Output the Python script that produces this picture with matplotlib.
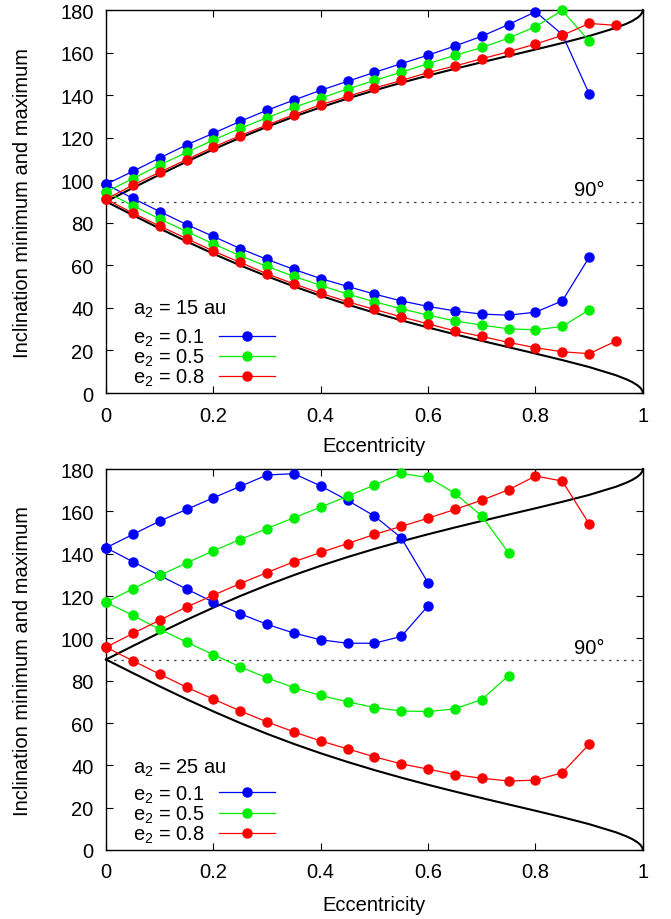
import matplotlib
matplotlib.use("Agg")
import matplotlib.pyplot as plt

plt.rcParams['font.family'] = ['Liberation Sans', 'DejaVu Sans']
plt.rcParams['mathtext.fontset'] = 'custom'
plt.rcParams['mathtext.rm'] = 'Liberation Sans'
plt.rcParams['mathtext.it'] = 'Liberation Sans'

BLUE = '#0000ff'
GREEN = '#00ee00'
RED = '#ff0000'
FS = 14.5

# limiting curve
bound_e = [0, 0.05, 0.1, 0.15, 0.2, 0.25, 0.3, 0.35, 0.4, 0.45, 0.5, 0.55, 0.6,
           0.65, 0.7, 0.75, 0.8, 0.85, 0.9, 0.95, 0.97, 0.98, 0.99, 0.995, 0.999, 1]
bound_upper = [90, 96.39, 102.67, 108.74, 114.53, 120.0, 125.12, 129.88, 134.31,
               138.41, 142.24, 145.82, 149.19, 152.39, 155.47, 158.47, 161.45,
               164.51, 167.78, 171.64, 173.61, 174.81, 176.36, 177.43, 178.85, 180]
bound_lower = [90, 83.61, 77.33, 71.26, 65.47, 60.0, 54.88, 50.12, 45.69, 41.59,
               37.76, 34.18, 30.81, 27.61, 24.53, 21.53, 18.55, 15.49, 12.22, 8.36,
               6.39, 5.19, 3.64, 2.57, 1.15, 0]

ecc_09 = [0, 0.05, 0.1, 0.15, 0.2, 0.25, 0.3, 0.35, 0.4, 0.45, 0.5, 0.55, 0.6,
          0.65, 0.7, 0.75, 0.8, 0.85, 0.9]
ecc_095 = ecc_09 + [0.95]
ecc_06 = ecc_09[:13]
ecc_075 = ecc_09[:16]

# a2 = 15 au
a15_e01_max = [98.1, 104.2, 110.5, 116.6, 122.1, 127.7, 132.9, 137.7, 142.3, 146.5,
               150.7, 154.8, 158.8, 163.1, 167.7, 173.2, 179.2, 168.5, 140.7]
a15_e01_min = [98.1, 91.5, 85.3, 79.2, 73.6, 67.9, 62.8, 58.1, 53.8, 50.1, 46.5,
               43.3, 40.7, 38.6, 37.1, 36.6, 38.0, 43.3, 63.8]
a15_e05_max = [94.5, 100.8, 107.2, 113.1, 118.9, 124.4, 129.4, 134.3, 138.6, 142.9,
               146.9, 150.8, 154.8, 158.7, 162.4, 166.8, 172.2, 179.8, 165.4]
a15_e05_min = [94.5, 88.1, 81.8, 75.9, 70.1, 64.5, 59.5, 54.8, 50.6, 46.5, 42.9,
               39.6, 36.6, 33.9, 31.9, 30.2, 29.7, 31.3, 39.1]
a15_e08_max = [91.1, 97.7, 103.8, 109.7, 115.6, 121.0, 126.0, 130.8, 135.5, 139.4,
               143.3, 146.9, 150.6, 153.7, 157.1, 160.4, 164.0, 168.1, 173.7, 172.8]
a15_e08_min = [91.1, 84.6, 78.5, 72.6, 66.7, 61.4, 56.0, 51.3, 46.9, 42.9, 39.3,
               35.8, 32.5, 29.2, 26.6, 23.8, 21.3, 19.4, 18.5, 24.4]

# a2 = 25 au
a25_e01_max = [142.8, 149.1, 155.4, 160.9, 166.4, 171.8, 177.2, 177.8, 172.0, 165.2,
               157.8, 147.5, 126.2]
a25_e01_min = [142.8, 136.2, 129.7, 123.3, 117.1, 111.6, 106.6, 102.5, 99.3, 97.7,
               97.7, 100.9, 115.4]
a25_e05_max = [117.1, 123.4, 129.7, 135.6, 141.4, 146.7, 151.9, 157.0, 162.0, 167.2,
               172.4, 177.9, 176.0, 168.5, 157.8, 140.4]
a25_e05_min = [117.1, 110.8, 104.3, 98.2, 92.3, 86.5, 81.3, 76.7, 73.0, 70.0, 67.3,
               65.7, 65.4, 66.7, 71.1, 82.4]
a25_e08_max = [95.8, 102.3, 108.6, 114.8, 120.4, 125.9, 131.1, 136.2, 140.6, 144.8,
               149.1, 152.9, 156.8, 160.9, 165.3, 170.2, 176.7, 174.3, 154.1]
a25_e08_min = [95.8, 89.4, 83.1, 76.9, 71.3, 65.7, 60.5, 55.8, 51.5, 47.8, 44.0,
               40.7, 38.2, 35.6, 33.9, 32.6, 33.0, 36.5, 50.0]

labels = ["e$_2$ = 0.1", "e$_2$ = 0.5", "e$_2$ = 0.8"]
colors = [BLUE, GREEN, RED]


def draw_panel(ax, series, title, title_y, xlab_y):
    ax.plot(bound_e, bound_upper, color='black', lw=1.5, clip_on=False, zorder=2)
    ax.plot(bound_e, bound_lower, color='black', lw=1.5, clip_on=False, zorder=2)
    ax.axhline(90, color='#444444', lw=0.9, ls=(0, (2, 4)), zorder=1)
    ax.text(0.9, 91.0, "90°", ha='center', va='bottom', fontsize=FS)

    handles = []
    for (e, vmax, vmin), col, lab in zip(series, colors, labels):
        h, = ax.plot(e, vmax, color=col, lw=0.9, marker='o', ms=6.5, mec=col,
                     clip_on=False, zorder=3, label=lab)
        ax.plot(e, vmin, color=col, lw=0.9, marker='o', ms=6.5, mec=col,
                clip_on=False, zorder=3)
        handles.append(h)

    ax.text(0.05, title_y, title, transform=ax.transAxes, ha='left', va='center',
            fontsize=FS)
    ax.legend(handles=handles, loc='lower left', bbox_to_anchor=(0.05, 0.012),
              frameon=False, markerfirst=False, fontsize=FS,
              handlelength=2.8, handletextpad=0.7, labelspacing=-0.05,
              borderpad=0, borderaxespad=0)

    ax.set_xlim(0, 1)
    ax.set_ylim(0, 180)
    ax.set_xticks([0, 0.2, 0.4, 0.6, 0.8, 1])
    ax.set_xticklabels(["0", "0.2", "0.4", "0.6", "0.8", "1"])
    ax.set_yticks(range(0, 181, 20))
    ax.tick_params(direction='in', length=5, width=0.8, top=True, right=True,
                   labelsize=FS, pad=9)
    for sp in ax.spines.values():
        sp.set_linewidth(1.0)
    ax.set_xlabel("Eccentricity", fontsize=FS)
    ax.set_ylabel("Inclination minimum and maximum", fontsize=FS)
    ax.xaxis.set_label_coords(0.5, xlab_y)
    ax.yaxis.set_label_coords(-0.137, 0.5)


fig = plt.figure(figsize=(6.71, 9.2), dpi=100)
ax1 = fig.add_axes([0.158, 0.5717, 0.800, 0.4163])
ax2 = fig.add_axes([0.158, 0.075, 0.800, 0.4141])

draw_panel(ax1, [(ecc_09, a15_e01_max, a15_e01_min),
                 (ecc_09, a15_e05_max, a15_e05_min),
                 (ecc_095, a15_e08_max, a15_e08_min)], "a$_2$ = 15 au", 0.222, -0.112)
draw_panel(ax2, [(ecc_06, a25_e01_max, a25_e01_min),
                 (ecc_075, a25_e05_max, a25_e05_min),
                 (ecc_09, a25_e08_max, a25_e08_min)], "a$_2$ = 25 au", 0.216, -0.119)

fig.savefig("out.png", dpi=100)
